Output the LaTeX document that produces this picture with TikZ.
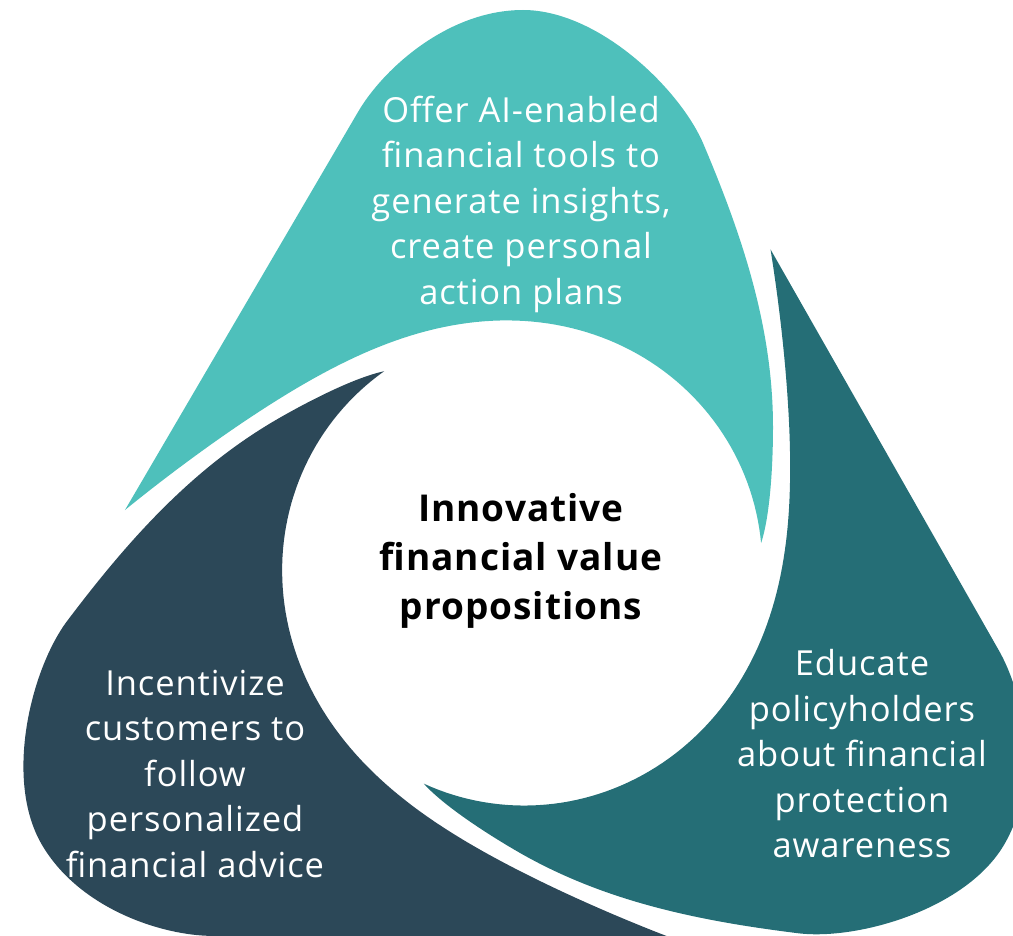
\documentclass[tikz,border=0pt]{standalone}
\usepackage{fontspec}
\setmainfont{Open Sans}[LetterSpace=2.7]
\definecolor{cTeal}{HTML}{4EC0BB}
\definecolor{cDark}{HTML}{256E76}
\definecolor{cNavy}{HTML}{2C4858}
\begin{document}
\begin{tikzpicture}[x=1pt,y=1pt,
  lbl/.style={align=center,text=white,font=\fontsize{34.5}{45.5}\selectfont,inner sep=0pt},
  ctr/.style={align=center,text=black,font=\fontsize{37}{49}\selectfont\bfseries,inner sep=0pt}]
\useasboundingbox (0,0) rectangle (1013,-936);
\clip (0,0) rectangle (1013,-936);
\foreach \ang/\col in {0/cTeal,120/cNavy,-120/cDark}{
  \fill[\col,shift={(523,-566)},rotate=\ang]
    (-398,56) -- (-165,454)
    .. controls (-140,497) and (-75,556) .. (0,556)
    .. controls (75,556) and (156,478) .. (180,423)
    .. controls (219,331) and (250,239) .. (250,139)
    .. controls (250,100) and (247,50) .. (238.1,22.9)
    -- plot[domain=5.5:172,samples=90]
       ({(239+163*exp(-(172-\x)/25))*cos(\x)},{(239+163*exp(-(172-\x)/25))*sin(\x)})
    -- cycle;
}
\node[lbl] (top) at (521,-204) {Offer AI-enabled\\financial tools to\\generate insights,\\create personal\\action plans};
\node[lbl] (left) at (195,-774) {Incentivize\\customers to\\follow\\personalized\\financial advice};
\node[lbl] (right) at (862,-754) {Educate\\policyholders\\about financial\\protection\\awareness};
\node[ctr] (mid) at (521,-561) {Innovative\\financial value\\propositions};
\end{tikzpicture}
\end{document}
